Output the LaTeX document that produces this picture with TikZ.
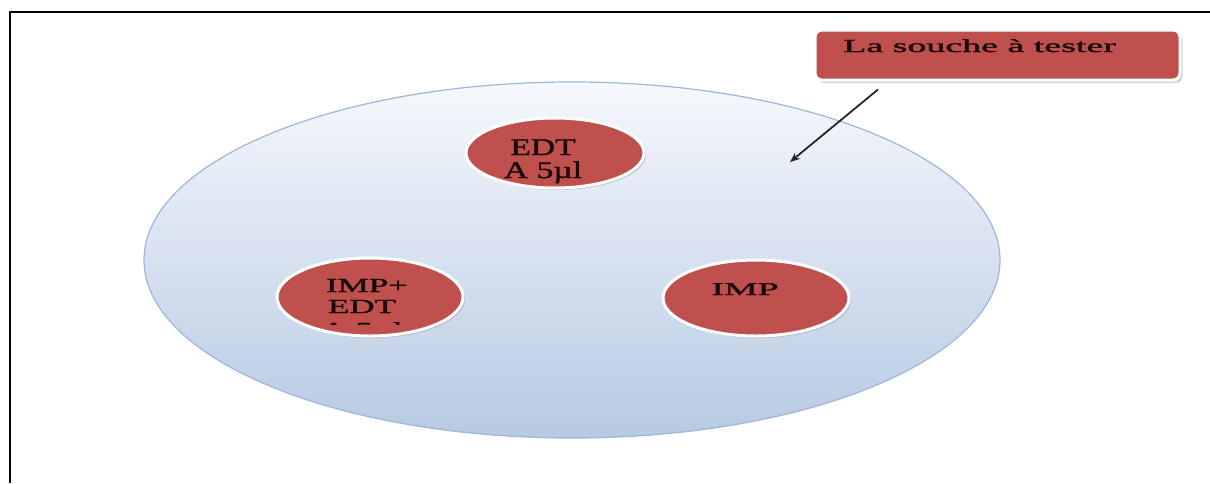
\documentclass[tikz,border=0pt]{standalone}
\usepackage{fontspec}
\setmainfont{Liberation Serif}
\newfontfamily\heavy[FakeBold=1.3]{Liberation Serif}
\usetikzlibrary{shapes.geometric,shadows,arrows.meta}
\definecolor{dishedge}{HTML}{9DB6DC}
\definecolor{dishtop}{HTML}{F6F8FC}
\definecolor{dishbot}{HTML}{B7CAE3}
\definecolor{disc}{HTML}{C0504D}
\definecolor{ink}{HTML}{1A0A0A}
\tikzset{
  frame/.style={draw=black, line width=2.2pt},
  disk/.style={ellipse, fill=disc, draw=white, line width=3pt, inner sep=0pt,
    drop shadow={opacity=0.35, shadow xshift=2pt, shadow yshift=-2pt}},
  label/.style={inner sep=0pt, text=ink, align=center, font=\heavy},
  tag/.style={rectangle, rounded corners=7pt, fill=disc, draw=white, line width=3pt,
    minimum width=365pt, minimum height=50pt, inner sep=0pt,
    drop shadow={opacity=0.35, shadow xshift=2.5pt, shadow yshift=-3pt}},
  pointer/.style={draw=black!85, line width=1.8pt, -{Stealth[length=10pt,width=8pt]}}
}
\begin{document}
\begin{tikzpicture}[x=1pt,y=-1pt]
\useasboundingbox (0,0) rectangle (1210,483);
\fill[white] (0,0) rectangle (1210,483);
% frame
\draw[frame] (1210,12) -- (10,12) -- (10,483);
% petri dish
\node[ellipse, minimum width=856pt, minimum height=356pt, inner sep=0pt,
  top color=dishtop, bottom color=dishbot, draw=dishedge, line width=1.2pt] (dish) at (572,260) {};
% disks
\node[disk, minimum width=178pt, minimum height=70pt] (edta) at (555,153) {};
\node[disk, minimum width=186pt, minimum height=78pt] (impedta) at (370,297) {};
\node[disk, minimum width=186pt, minimum height=76pt] (imp) at (756,298) {};
% disk texts
\node[label, anchor=base] (tedta1) at (543,155) {\scalebox{1.4}[1]{\fontsize{24}{24}\selectfont EDT}};
\node[label, anchor=base] (tedta2) at (543,178) {\scalebox{1.4}[1]{\fontsize{24}{24}\selectfont A 5µl}};
\node[label, anchor=base] (timp) at (745,295) {\scalebox{2.1}[1]{\fontsize{18}{18}\selectfont IMP}};
\node[label, anchor=base] (tie1) at (367,292) {\scalebox{1.75}[1]{\fontsize{20}{20}\selectfont IMP+}};
\node[label, anchor=base] (tie2) at (362,313) {\scalebox{1.75}[1]{\fontsize{20}{20}\selectfont EDT}};
\begin{scope}
  \clip (280,300) rectangle (460,324);
  \node[label, anchor=base] (tie3) at (362,336) {\scalebox{1.75}[1]{\fontsize{20}{20}\selectfont A 5µl}};
\end{scope}
% tag box
\node[tag] (box) at (997.5,55) {};
\node[label, anchor=base west] (tbox) at (843,52) {\scalebox{2.05}[1]{\fontsize{18.5}{18.5}\selectfont La souche à tester}};
% arrow
\coordinate (tip) at (790,162);
\draw[pointer] ([xshift=-119.5pt,yshift=-8pt]box.south) -- (tip);
\end{tikzpicture}
\end{document}
